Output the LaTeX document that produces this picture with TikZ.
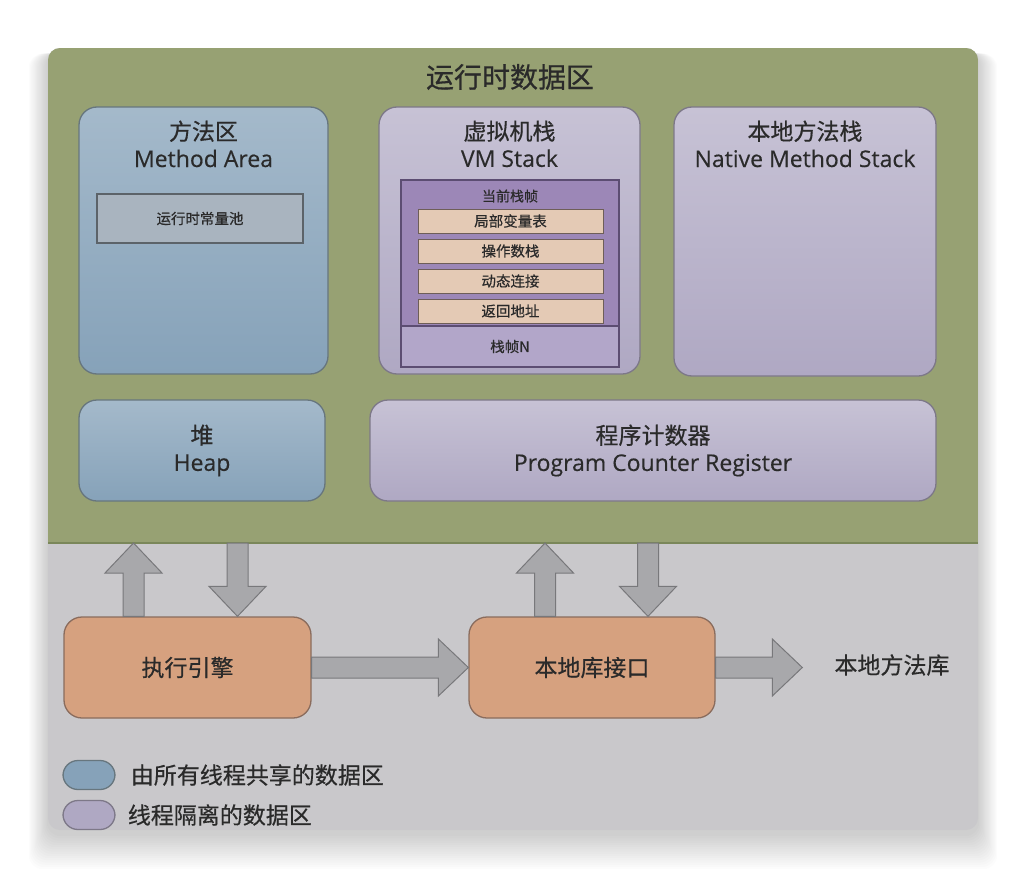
\documentclass[tikz,border=0pt]{standalone}
\usepackage{fontspec}
\setmainfont{Open Sans}[FakeBold=0.35]
\newfontfamily\cjk{Noto Sans CJK SC}[FakeBold=0.5]
\usepackage{xcolor}
\usetikzlibrary{calc, positioning}

\definecolor{rtgreen}{HTML}{97A173}
\definecolor{rtedge}{HTML}{7A875A}
\definecolor{lowgray}{HTML}{C9C8CB}
\definecolor{shareblue}{HTML}{86A2B9}
\definecolor{shareedge}{HTML}{67767E}
\definecolor{privlav}{HTML}{AFA8C3}
\definecolor{privedge}{HTML}{7D7888}
\definecolor{framepurple}{HTML}{9C87B7}
\definecolor{frameedge}{HTML}{5C4D72}
\definecolor{framelow}{HTML}{B2A6C9}
\definecolor{slotpeach}{HTML}{E4CAB5}
\definecolor{slotedge}{HTML}{6E5E58}
\definecolor{poolgray}{HTML}{A9B4BF}
\definecolor{pooledge}{HTML}{5C6369}
\definecolor{enginebrown}{HTML}{D6A17F}
\definecolor{engineedge}{HTML}{8A6C5D}
\definecolor{pipegray}{HTML}{A8A8AB}
\definecolor{pipeedge}{HTML}{78787B}
\definecolor{inktext}{HTML}{2A2A2A}

\begin{document}
\begin{tikzpicture}[x=1pt, y=-1pt, >=latex,
    every node/.style={text=inktext},
    shared/.style={draw=shareedge, line width=1.3pt, rounded corners=18pt,
        top color=shareblue!75!white, bottom color=shareblue, inner sep=0},
    private/.style={draw=privedge, line width=1.3pt, rounded corners=18pt,
        top color=privlav!70!white, bottom color=privlav, inner sep=0},
    engine/.style={draw=engineedge, line width=1.3pt, rounded corners=18pt,
        fill=enginebrown, inner sep=0, font=\cjk\fontsize{23}{27}\selectfont},
    slot/.style={draw=slotedge, line width=1pt, fill=slotpeach, inner sep=0,
        minimum width=185, minimum height=24, font=\cjk\fontsize{14.5}{16}\selectfont},
    boxtitle/.style={inner sep=0, align=center, font=\fontsize{23}{27}\selectfont},
    legend/.style={line width=1.3pt, rounded corners=15pt, minimum width=52, minimum height=29, inner sep=0},
    legendtext/.style={inner sep=0, font=\cjk\fontsize{23}{27}\selectfont},
    pipe/.style={draw=pipeedge, fill=pipegray, line width=1pt, line join=miter}]

    % 1. Nền trắng, bóng và khung
    \useasboundingbox (0,0) rectangle (1026,878);
    \fill[white] (0,0) rectangle (1026,878);
    \foreach \i in {1,...,16}
        \fill[black, opacity=0.01, rounded corners=14pt]
            ({48-1.2*\i},{52+0.1*\i}) rectangle ({978+1.2*\i},{834+2.2*\i});
    \fill[lowgray, rounded corners=12pt] (48,48) rectangle (978,830);
    \begin{scope}
        \clip[rounded corners=12pt] (48,48) rectangle (978,830);
        \fill[rtgreen] (48,48) rectangle (978,543);
    \end{scope}
    \coordinate (rtbase) at (48,543);
    \draw[rtedge, line width=2pt] (rtbase) -- (978,543);
    \node[font=\cjk\fontsize{28}{30}\selectfont] (rttitle) at (510,77) {运行时数据区};

    % 2. Các vùng dữ liệu
    \node[shared, minimum width=249, minimum height=267] (method) at (203.5,240.5) {};
    \node[boxtitle, below=14pt of method.north] (methodtitle) {{\cjk 方法区}\\Method Area};
    \node[draw=pooledge, line width=1.5pt, fill=poolgray, minimum width=206, minimum height=49,
        inner sep=0, font=\cjk\fontsize{14.5}{16}\selectfont] (pool) at (200,218.5) {运行时常量池};

    \node[private, minimum width=261, minimum height=267] (vmstack) at (509.5,240.5) {};
    \node[boxtitle, below=14pt of vmstack.north] (vmtitle) {{\cjk 虚拟机栈}\\VM Stack};
    \node[draw=frameedge, line width=1.3pt, fill=framepurple, minimum width=218, minimum height=187,
        inner sep=0] (curframe) at (510,273.5) {};
    \node[draw=frameedge, line width=1.3pt, fill=framelow, minimum width=218, minimum height=41,
        inner sep=0, font=\cjk\fontsize{14.5}{16}\selectfont] (frameN) at (510,346.5) {栈帧N};
    \node[inner sep=0, font=\cjk\fontsize{14}{16}\selectfont] (curtitle) at (510,196) {当前栈帧};
    \node[slot] (locals) at (510.5,221) {局部变量表};
    \node[slot, below=5pt of locals] (operand) {操作数栈};
    \node[slot, below=5pt of operand] (dynlink) {动态连接};
    \node[slot, below=5pt of dynlink] (retaddr) {返回地址};

    \node[private, minimum width=262, minimum height=269] (native) at (805,241.5) {};
    \node[boxtitle, below=14pt of native.north] (nativetitle) {{\cjk 本地方法栈}\\Native Method Stack};

    \node[shared, minimum width=246, minimum height=101, align=center,
        font=\fontsize{23}{27}\selectfont] (heap) at (202,450.5) {{\cjk 堆}\\Heap};
    \node[private, minimum width=566, minimum height=101, align=center,
        font=\fontsize{23}{27}\selectfont] (pcr) at (653,450.5) {{\cjk 程序计数器}\\Program Counter Register};

    % 3. Khối thực thi và mũi tên
    \node[engine, minimum width=247, minimum height=101] (exec) at (187.5,667.5) {执行引擎};
    \node[engine, minimum width=246, minimum height=101] (jni) at (592,667.5) {本地库接口};
    \node[inner sep=0, font=\cjk\fontsize{23}{27}\selectfont] (natlib) at (892,665) {本地方法库};

    \coordinate (e-out) at ($(exec.north)+(-54,0)$);
    \coordinate (e-in) at ($(exec.north)+(50,0)$);
    \coordinate (j-out) at ($(jni.north)+(-47,0)$);
    \coordinate (j-in) at ($(jni.north)+(56,0)$);
    \coordinate (e-out-tip) at (e-out |- rtbase);
    \coordinate (e-in-tail) at (e-in |- rtbase);
    \coordinate (j-out-tip) at (j-out |- rtbase);
    \coordinate (j-in-tail) at (j-in |- rtbase);
    \coordinate (libtip) at ([xshift=-32pt]jni.east -| natlib.west);

    \foreach \s/\t in {e-out/e-out-tip, e-in-tail/e-in, exec.east/jni.west,
                       j-out/j-out-tip, j-in-tail/j-in, jni.east/libtip} {
        \path (\s) coordinate (pa) (\t) coordinate (pb) ($(pb)!30pt!(pa)$) coordinate (ph);
        \draw[pipe] ($(pa)!10.5pt!90:(pb)$) -- ($(ph)!10.5pt!-90:(pa)$) -- ($(ph)!28.5pt!-90:(pa)$)
            -- (pb) -- ($(ph)!28.5pt!90:(pa)$) -- ($(ph)!10.5pt!90:(pa)$) -- ($(pa)!10.5pt!-90:(pb)$) -- cycle;
    }

    % 4. Chú thích
    \node[legend, draw=shareedge, fill=shareblue] (legshared) at (89,775) {};
    \node[legendtext, anchor=west, right=15pt of legshared] (legsharedtxt) {由所有线程共享的数据区};
    \node[legend, draw=privedge, fill=privlav] (legprivate) at (89,815) {};
    \node[legendtext, anchor=west, right=12pt of legprivate] (legprivatetxt) {线程隔离的数据区};
\end{tikzpicture}
\end{document}
